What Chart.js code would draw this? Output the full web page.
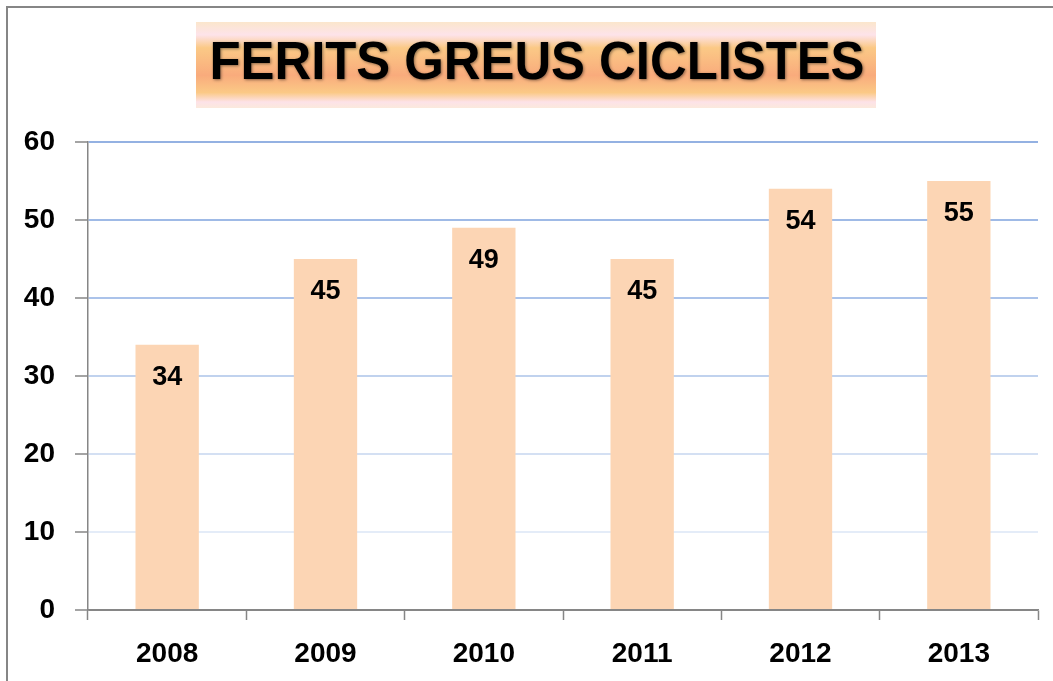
<!DOCTYPE html>
<html>
<head>
<meta charset="utf-8">
<script src="https://cdn.jsdelivr.net/npm/chart.js@4.4.0/dist/chart.umd.min.js"></script>
<style>
  html, body { margin: 0; padding: 0; background: #fff; }
  canvas { display: block; }
</style>
</head>
<body>
<canvas id="myChart" width="1053" height="681"></canvas>
<script>
const titol = 'FERITS GREUS CICLISTES';
const anys = ['2008', '2009', '2010', '2011', '2012', '2013'];
const ferits = [34, 45, 49, 45, 54, 55];
const yTicks = [0, 10, 20, 30, 40, 50, 60];

const gridColors = {
  0: '#868686',
  10: '#e4ecf8',
  20: '#d4e0f3',
  30: '#c0d2ee',
  40: '#abc3ea',
  50: '#9fbae6',
  60: '#94b1e2'
};

// marc exterior + rètol amb degradat
const fonsPlugin = {
  id: 'fons',
  beforeDraw(chart) {
    const c = chart.ctx;
    c.save();
    c.fillStyle = '#fff';
    c.fillRect(0, 0, chart.width, chart.height);
    c.strokeStyle = '#868686';
    c.lineWidth = 2;
    c.strokeRect(7, 7, chart.width + 20, chart.height + 20);

    const x0 = 196, y0 = 22, w = 680, h = 86;
    const g = c.createLinearGradient(0, y0, 0, y0 + h);
    g.addColorStop(0, '#fbe6cc');
    g.addColorStop(0.15, '#fde3ea');
    g.addColorStop(0.3, '#fbc986');
    g.addColorStop(0.62, '#f9ab7c');
    g.addColorStop(0.82, '#fbc986');
    g.addColorStop(0.93, '#fde2e8');
    g.addColorStop(1, '#fbe9dc');
    c.fillStyle = g;
    c.fillRect(x0, y0, w, h);

    c.font = 'bold 52px "Liberation Sans", Arial, sans-serif';
    c.textAlign = 'center';
    c.textBaseline = 'middle';
    const tw = c.measureText(titol).width;
    c.translate(537, 64);
    c.scale(655 / tw, 1.02);
    c.shadowColor = 'rgba(0,0,0,0.45)';
    c.shadowBlur = 3;
    c.shadowOffsetX = 1;
    c.shadowOffsetY = 1;
    c.fillStyle = '#000';
    c.fillText(titol, 0, 0);
    c.restore();
  }
};

// etiquetes dins de cada barra
const etiquetesPlugin = {
  id: 'etiquetes',
  afterDatasetsDraw(chart) {
    const c = chart.ctx;
    const meta = chart.getDatasetMeta(0);
    c.save();
    c.font = 'bold 27px "Liberation Sans", Arial, sans-serif';
    c.fillStyle = '#000';
    c.textAlign = 'center';
    c.textBaseline = 'middle';
    meta.data.forEach((bar, i) => {
      c.fillText(String(ferits[i]), bar.x, bar.y + 33);
    });
    c.restore();
  }
};

const ctx = document.getElementById('myChart').getContext('2d');
new Chart(ctx, {
  type: 'bar',
  data: {
    labels: anys,
    datasets: [{
      data: ferits,
      backgroundColor: '#fcd5b4',
      borderWidth: 0,
      categoryPercentage: 1,
      barPercentage: 0.4
    }]
  },
  options: {
    responsive: false,
    animation: false,
    layout: { padding: { top: 142, right: 15, left: 0, bottom: 0 } },
    plugins: {
      legend: { display: false },
      tooltip: { enabled: false }
    },
    scales: {
      x: {
        grid: {
          drawOnChartArea: false,
          drawTicks: true,
          tickLength: 10,
          tickColor: '#868686',
          tickWidth: 1.5
        },
        border: { color: '#868686', width: 1.5 },
        ticks: {
          color: '#000',
          padding: 17,
          font: { family: '"Liberation Sans", Arial, sans-serif', size: 28, weight: 'bold' }
        },
        afterFit(scale) { scale.height = 71; }
      },
      y: {
        min: 0,
        max: 60,
        afterBuildTicks(scale) { scale.ticks = yTicks.map(v => ({ value: v })); },
        grid: {
          color: c => gridColors[c.tick.value] || '#c2d3ee',
          lineWidth: 2,
          tickLength: 13,
          tickColor: '#868686',
          tickWidth: 1.5
        },
        border: { color: '#868686', width: 1.5 },
        ticks: {
          color: '#000',
          padding: 20,
          font: { family: '"Liberation Sans", Arial, sans-serif', size: 28, weight: 'bold' }
        },
        afterFit(scale) { scale.width = 88; }
      }
    }
  },
  plugins: [fonsPlugin, etiquetesPlugin]
});
</script>
</body>
</html>
